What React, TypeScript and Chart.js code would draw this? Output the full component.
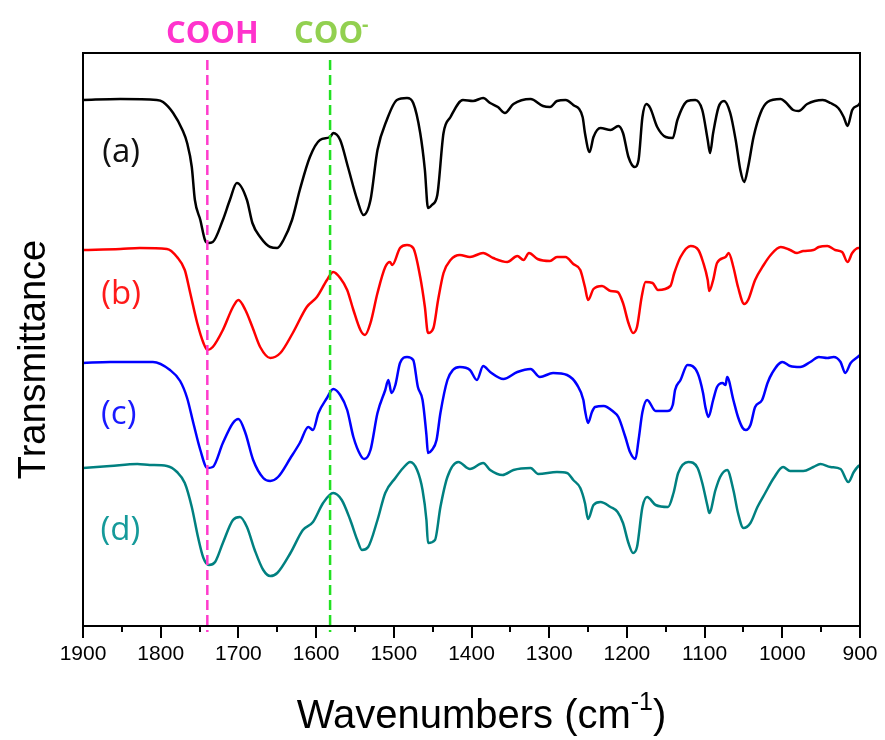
import React, { useEffect, useRef } from "react";
import { Chart, registerables } from "chart.js";

Chart.register(...registerables);

// ---- Data (wavenumber in cm-1, transmittance in arbitrary offset units) ----
const waveA = [1900, 1852, 1805, 1797, 1784, 1772, 1766, 1760, 1756, 1749, 1743, 1739, 1733, 1720, 1711, 1702, 1689, 1682, 1672, 1659, 1650, 1642, 1631, 1621, 1608, 1595, 1582, 1578, 1569, 1559, 1547, 1539, 1530, 1521, 1509, 1496, 1483, 1475, 1466, 1460, 1456, 1451, 1444, 1436, 1427, 1411, 1398, 1385, 1376, 1366, 1357, 1346, 1324, 1308, 1299, 1290, 1279, 1269, 1257, 1254, 1248, 1243, 1234, 1221, 1211, 1205, 1198, 1190, 1185, 1180, 1175, 1170, 1161, 1150, 1141, 1135, 1122, 1112, 1103, 1096, 1093, 1089, 1082, 1075, 1067, 1060, 1054, 1049, 1044, 1037, 1028, 1019, 1002, 996, 986, 979, 968, 948, 938, 928, 921, 916, 910, 902, 900];
const transA = [52.6, 52.7, 52.6, 52.4, 51.3, 49.6, 48.3, 45.9, 42.6, 40.6, 38.6, 38.3, 38.4, 40.6, 42.6, 44.3, 42.6, 40.3, 38.9, 37.9, 37.8, 38.6, 40.6, 43.6, 46.9, 48.6, 48.9, 49.3, 48.6, 45.9, 42.6, 41.1, 42.6, 47.6, 50.6, 52.6, 52.8, 52.3, 49.3, 45.6, 41.8, 42.1, 43.1, 49.3, 50.9, 52.6, 52.5, 52.8, 52.3, 51.9, 51.3, 52.2, 52.7, 52.0, 51.9, 52.5, 52.6, 52.1, 50.9, 49.3, 47.4, 48.9, 49.8, 49.6, 50.0, 49.3, 46.9, 45.9, 46.6, 50.9, 52.2, 51.8, 49.9, 48.9, 48.8, 50.6, 52.5, 52.6, 51.6, 48.6, 47.3, 49.3, 51.9, 52.5, 51.3, 48.6, 45.6, 44.4, 45.9, 48.9, 51.3, 52.4, 52.7, 52.4, 51.6, 51.5, 52.2, 52.6, 52.3, 51.8, 50.9, 50.0, 51.6, 52.1, 52.3];

const waveB = [1900, 1852, 1827, 1792, 1779, 1769, 1762, 1753, 1745, 1740, 1733, 1720, 1707, 1700, 1691, 1682, 1672, 1659, 1646, 1630, 1612, 1599, 1586, 1578, 1569, 1560, 1552, 1543, 1537, 1530, 1521, 1511, 1505, 1502, 1492, 1483, 1475, 1466, 1460, 1456, 1449, 1443, 1436, 1427, 1415, 1402, 1385, 1372, 1354, 1341, 1333, 1326, 1315, 1299, 1290, 1279, 1269, 1260, 1254, 1250, 1243, 1232, 1221, 1212, 1205, 1198, 1192, 1187, 1181, 1176, 1167, 1160, 1144, 1139, 1131, 1118, 1108, 1102, 1096, 1094, 1089, 1084, 1073, 1069, 1063, 1057, 1049, 1044, 1035, 1024, 1015, 1002, 990, 981, 973, 960, 953, 942, 932, 923, 916, 910, 902, 900];
const transB = [37.6, 37.7, 37.8, 37.7, 36.9, 35.6, 33.3, 30.3, 28.3, 27.6, 27.9, 29.6, 31.9, 32.6, 31.6, 29.9, 27.9, 26.8, 27.3, 29.3, 31.9, 32.9, 34.6, 35.4, 34.8, 33.6, 31.6, 29.6, 29.1, 30.3, 33.3, 35.9, 36.4, 36.1, 37.8, 38.1, 37.8, 34.9, 31.9, 29.3, 29.8, 32.6, 35.3, 36.6, 37.1, 36.9, 37.3, 36.8, 36.4, 37.0, 36.6, 37.3, 36.7, 36.5, 36.9, 36.9, 36.2, 35.6, 33.9, 32.6, 33.7, 34.0, 33.5, 33.4, 32.3, 30.3, 29.3, 29.9, 32.9, 34.4, 34.3, 33.6, 34.0, 35.3, 36.9, 38.0, 37.6, 36.4, 34.6, 33.5, 34.6, 36.3, 36.9, 37.3, 35.9, 33.9, 32.2, 32.6, 34.6, 36.1, 37.1, 37.9, 37.6, 37.3, 37.5, 37.6, 37.9, 38.0, 37.6, 37.4, 36.4, 37.3, 37.8, 37.8];

const waveC = [1900, 1865, 1810, 1788, 1775, 1766, 1758, 1749, 1740, 1733, 1720, 1707, 1700, 1691, 1681, 1668, 1659, 1649, 1633, 1621, 1610, 1604, 1597, 1586, 1578, 1569, 1560, 1552, 1543, 1538, 1530, 1521, 1511, 1507, 1503, 1498, 1492, 1483, 1475, 1469, 1463, 1458, 1456, 1451, 1445, 1440, 1431, 1424, 1415, 1402, 1393, 1385, 1376, 1359, 1341, 1324, 1312, 1295, 1277, 1264, 1256, 1254, 1250, 1245, 1241, 1230, 1217, 1211, 1202, 1196, 1189, 1185, 1180, 1174, 1163, 1148, 1141, 1138, 1131, 1122, 1109, 1102, 1099, 1095, 1089, 1084, 1077, 1073, 1071, 1063, 1057, 1051, 1047, 1041, 1035, 1026, 1019, 1013, 1000, 990, 977, 964, 953, 942, 934, 925, 919, 912, 903, 900];
const transC = [26.3, 26.4, 26.4, 25.6, 24.5, 22.8, 20.3, 17.6, 15.8, 15.9, 18.3, 20.3, 20.7, 19.3, 16.6, 14.8, 14.5, 14.9, 16.8, 18.3, 19.9, 19.6, 21.3, 22.8, 23.7, 23.1, 21.6, 18.9, 17.1, 16.7, 17.6, 21.3, 23.6, 24.6, 23.3, 24.1, 26.3, 26.9, 26.6, 23.9, 22.6, 19.1, 17.3, 17.6, 18.6, 21.3, 24.6, 25.6, 25.9, 25.6, 24.6, 26.0, 25.4, 24.7, 25.4, 25.7, 24.9, 25.3, 25.1, 24.1, 22.6, 21.6, 20.3, 21.4, 21.9, 22.0, 21.4, 20.9, 18.9, 17.4, 16.7, 18.6, 21.4, 22.6, 21.5, 21.5, 22.1, 23.6, 24.6, 26.1, 25.3, 23.3, 21.9, 20.9, 22.6, 23.9, 24.3, 24.1, 24.9, 22.6, 20.9, 19.8, 19.6, 20.1, 21.9, 22.6, 24.3, 25.3, 26.4, 26.0, 25.9, 26.4, 26.9, 26.8, 26.9, 26.4, 25.3, 26.3, 26.9, 27.1];

const waveD = [1900, 1865, 1830, 1814, 1792, 1779, 1769, 1760, 1752, 1745, 1738, 1730, 1720, 1707, 1698, 1689, 1679, 1668, 1659, 1650, 1633, 1617, 1604, 1591, 1578, 1567, 1556, 1547, 1541, 1533, 1521, 1511, 1498, 1488, 1479, 1470, 1463, 1458, 1456, 1447, 1440, 1431, 1417, 1402, 1385, 1376, 1360, 1346, 1324, 1314, 1290, 1277, 1269, 1260, 1254, 1250, 1243, 1234, 1221, 1212, 1205, 1198, 1192, 1187, 1180, 1174, 1163, 1147, 1140, 1134, 1121, 1109, 1103, 1096, 1094, 1086, 1080, 1071, 1063, 1057, 1050, 1041, 1032, 1022, 1011, 999, 990, 973, 960, 951, 938, 925, 915, 908, 902, 900];
const transD = [15.8, 16.0, 16.2, 16.1, 16.0, 15.4, 14.3, 11.9, 8.9, 6.8, 6.1, 6.4, 8.3, 10.6, 10.9, 9.9, 7.6, 5.6, 5.0, 5.3, 7.3, 9.6, 10.4, 12.3, 13.3, 12.6, 10.6, 8.6, 7.6, 7.9, 10.6, 13.3, 14.8, 15.8, 16.4, 15.6, 13.6, 10.6, 8.3, 8.6, 11.9, 14.9, 16.4, 15.7, 16.3, 15.6, 15.1, 15.6, 15.8, 15.2, 15.4, 15.3, 14.6, 13.8, 12.3, 10.7, 12.1, 12.4, 11.9, 11.4, 10.3, 8.3, 7.3, 7.9, 11.9, 12.9, 12.1, 11.9, 13.3, 15.3, 16.4, 15.8, 14.3, 11.9, 11.3, 13.6, 14.9, 15.6, 13.6, 11.3, 9.8, 10.3, 11.9, 13.3, 14.8, 15.9, 15.5, 15.5, 15.9, 16.2, 15.9, 15.7, 14.4, 15.4, 16.0, 16.1];

const seriesNames = ["(a)", "(b)", "(c)", "(d)"];
const markerWaves = [1740, 1582];
const markerNames = ["COOH", "COO"];
const xTicksMajor = [1900, 1800, 1700, 1600, 1500, 1400, 1300, 1200, 1100, 1000, 900];
const xTicksMinor = [1850, 1750, 1650, 1550, 1450, 1350, 1250, 1150, 1050, 950];
// label anchor positions in data units
const labelWave = [1851, 1851, 1854, 1852];
const labelTrans = [47.3, 33.1, 21.1, 9.5];

const lineColors = ["#000000", "#ff0000", "#0000ff", "#008080"];
const labelColors = ["#111111", "#ff1a1a", "#1a1aff", "#159a9a"];
const markerColors = ["#ff3ccc", "#22e022"];
const markerTextColors = ["#ff33cc", "#92d050"];

const toPts = (w: number[], t: number[]) => w.map((x, i) => ({ x, y: t[i] }));

const overlayPlugin = {
  id: "overlay",
  afterDraw(chart: any) {
    const { ctx, chartArea: ca, scales } = chart;
    const xs = scales.x;
    const ys = scales.y;
    ctx.save();
    // frame
    ctx.strokeStyle = "#000";
    ctx.lineWidth = 2;
    ctx.setLineDash([]);
    ctx.strokeRect(ca.left, ca.top, ca.right - ca.left, ca.bottom - ca.top);
    // minor ticks
    for (const m of xTicksMinor) {
      const px = Math.round(xs.getPixelForValue(m));
      ctx.beginPath();
      ctx.moveTo(px, ca.bottom);
      ctx.lineTo(px, ca.bottom + 6);
      ctx.stroke();
    }
    // series labels
    ctx.font = '33px "Open Sans"';
    ctx.textAlign = "center";
    ctx.textBaseline = "middle";
    seriesNames.forEach((n, i) => {
      ctx.fillStyle = labelColors[i];
      ctx.fillText(n, xs.getPixelForValue(labelWave[i]), ys.getPixelForValue(labelTrans[i]));
    });
    // marker labels above plot
    ctx.font = 'bold 31px "Open Sans"';
    ctx.textBaseline = "alphabetic";
    const m0 = xs.getPixelForValue(markerWaves[0]);
    ctx.fillStyle = markerTextColors[0];
    ctx.textAlign = "center";
    ctx.fillText(markerNames[0], m0 + 5, 43);
    const m1 = xs.getPixelForValue(markerWaves[1]);
    ctx.fillStyle = markerTextColors[1];
    ctx.textAlign = "right";
    ctx.fillText(markerNames[1], m1 + 33, 43);
    ctx.font = 'bold 20px "Open Sans"';
    ctx.textAlign = "left";
    ctx.fillText("-", m1 + 32, 31);
    // axis titles
    ctx.fillStyle = "#000";
    const mainFont = '40px "Liberation Sans", Arial, sans-serif';
    const supFont = '25px "Liberation Sans", Arial, sans-serif';
    ctx.font = mainFont;
    const p1 = "Wavenumbers (cm";
    const w1 = ctx.measureText(p1).width;
    const w3 = ctx.measureText(")").width;
    ctx.font = supFont;
    const w2 = ctx.measureText("-1").width;
    const total = w1 + w2 + w3;
    const cx = (ca.left + ca.right) / 2 + 10;
    let sx = cx - total / 2;
    const base = 728;
    ctx.textAlign = "left";
    ctx.font = mainFont;
    ctx.fillText(p1, sx, base);
    sx += w1;
    ctx.font = supFont;
    ctx.fillText("-1", sx, base - 18);
    sx += w2;
    ctx.font = mainFont;
    ctx.fillText(")", sx, base);
    // y title
    ctx.translate(45, (ca.top + ca.bottom) / 2 + 20);
    ctx.rotate(-Math.PI / 2);
    ctx.textAlign = "center";
    ctx.font = '38px "Liberation Sans", Arial, sans-serif';
    ctx.fillText("Transmittance", 0, 0);
    ctx.restore();
  },
};

export default function App() {
  const ref = useRef<HTMLCanvasElement | null>(null);
  useEffect(() => {
    if (!ref.current) return;
    const curves = [
      toPts(waveA, transA),
      toPts(waveB, transB),
      toPts(waveC, transC),
      toPts(waveD, transD),
    ];
    const datasets: any[] = [];
    markerWaves.forEach((w, i) => {
      datasets.push({
        label: markerNames[i],
        data: [
          { x: w, y: 56.6 },
          { x: w, y: -0.6 },
        ],
        borderColor: markerColors[i],
        borderWidth: 2.5,
        borderDash: [10, 5],
        pointRadius: 0,
        clip: false,
        order: 0,
      });
    });
    curves.forEach((c, i) => {
      datasets.push({
        label: seriesNames[i],
        data: c,
        borderColor: lineColors[i],
        borderWidth: 2.5,
        pointRadius: 0,
        cubicInterpolationMode: "monotone",
        order: 1,
      });
    });
    const chart = new Chart(ref.current, {
      type: "line",
      data: { datasets },
      options: {
        animation: false,
        responsive: true,
        maintainAspectRatio: false,
        layout: { padding: { top: 53, right: 25, left: 0, bottom: 0 } },
        plugins: { legend: { display: false }, tooltip: { enabled: false } },
        scales: {
          x: {
            type: "linear",
            reverse: true,
            min: 900,
            max: 1900,
            afterFit: (s: any) => {
              s.height = 114;
            },
            afterBuildTicks: (s: any) => {
              s.ticks = xTicksMajor.map((v) => ({ value: v }));
            },
            border: { display: false },
            grid: {
              display: true,
              drawOnChartArea: false,
              drawTicks: true,
              tickLength: 12,
              color: "#000",
              lineWidth: 2,
            },
            ticks: {
              color: "#000",
              padding: 4,
              maxRotation: 0,
              autoSkip: false,
              font: { family: '"Liberation Sans", Arial, sans-serif', size: 21 },
              callback: (v: any) => String(v),
            },
          },
          y: {
            type: "linear",
            min: 0,
            max: 57.3,
            afterFit: (s: any) => {
              s.width = 83;
            },
            border: { display: false },
            grid: { display: false },
            ticks: { display: false },
          },
        },
      },
      plugins: [overlayPlugin],
    });
    return () => chart.destroy();
  }, []);
  return (
    <div style={{ position: "fixed", left: 0, top: 0, width: 885, height: 740, background: "#fff" }}>
      <canvas ref={ref} />
    </div>
  );
}
